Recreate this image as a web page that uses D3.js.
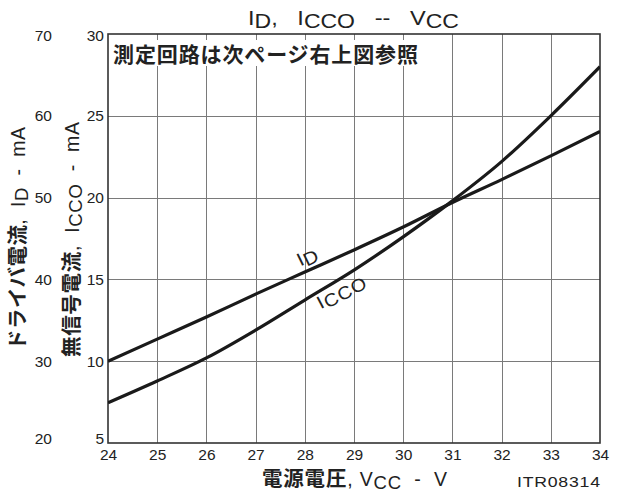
<!DOCTYPE html>
<html>
<head>
<meta charset="utf-8">
<script src="https://cdn.jsdelivr.net/npm/d3@7"></script>
<style>
  html, body { margin: 0; padding: 0; background: #fff; }
  svg { display: block; }
  text { font-family: "Liberation Sans", Arial, sans-serif; fill: #222; white-space: pre; }
  .cjk { font-family: "Noto Sans CJK JP", sans-serif; font-weight: 700; }
</style>
</head>
<body>
<script>
// Supply voltage (V) and the two measured currents (mA)
const vcc = [24, 25, 26, 27, 28, 29, 30, 31, 32, 33, 34];
const driveCurrent = [30, 32.7, 35.4, 38.2, 40.9, 43.6, 46.4, 49.4, 52.2, 55.1, 58.1];   // ID, outer scale
const noSignalCurrent = [7.46, 8.79, 10.2, 11.9, 13.74, 15.57, 17.6, 19.8, 22.2, 25.0, 28.0]; // ICCO, inner scale

const xTicks = [24, 25, 26, 27, 28, 29, 30, 31, 32, 33, 34];
const iccoTicks = [5, 10, 15, 20, 25, 30];
const idTicks = [20, 30, 40, 50, 60, 70];

const W = 619, H = 492;
const plot = { left: 108, right: 600, top: 34, bottom: 443 };

const svg = d3.select("body").append("svg").attr("width", W).attr("height", H);

const x = d3.scaleLinear().domain([24, 34]).range([plot.left, plot.right]);
const yIcco = d3.scaleLinear().domain([5, 30]).range([plot.bottom, plot.top]);
const yId = d3.scaleLinear().domain([20, 70]).range([plot.bottom, plot.top]);

// Grid
const grid = svg.append("g").attr("stroke", "#7a7a7a").attr("stroke-width", 1);
grid.selectAll("line.v").data(xTicks.slice(1, -1)).join("line")
  .attr("x1", d => Math.round(x(d)) + 0.5).attr("x2", d => Math.round(x(d)) + 0.5)
  .attr("y1", plot.top).attr("y2", plot.bottom);
grid.selectAll("line.h").data(iccoTicks.slice(1, -1)).join("line")
  .attr("y1", d => Math.round(yIcco(d)) + 0.5).attr("y2", d => Math.round(yIcco(d)) + 0.5)
  .attr("x1", plot.left).attr("x2", plot.right);

// Note box
svg.append("rect").attr("x", 111).attr("y", 40).attr("width", 310).attr("height", 26).attr("fill", "#fff");
svg.append("text").attr("class", "cjk").attr("x", 113).attr("y", 62)
  .attr("font-size", 21).attr("textLength", 305).attr("lengthAdjust", "spacing")
  .text("測定回路は次ページ右上図参照");

// Frame
svg.append("rect").attr("x", plot.left).attr("y", plot.top)
  .attr("width", plot.right - plot.left).attr("height", plot.bottom - plot.top)
  .attr("fill", "none").attr("stroke", "#333").attr("stroke-width", 1.6);

// Curves
svg.append("clipPath").attr("id", "pc").append("rect")
  .attr("x", plot.left).attr("y", plot.top)
  .attr("width", plot.right - plot.left).attr("height", plot.bottom - plot.top);

const lineId = d3.line().x((d, i) => x(vcc[i])).y(d => yId(d)).curve(d3.curveMonotoneX);
const lineIcco = d3.line().x((d, i) => x(vcc[i])).y(d => yIcco(d)).curve(d3.curveMonotoneX);

svg.append("path").attr("d", lineId(driveCurrent)).attr("clip-path", "url(#pc)")
  .attr("fill", "none").attr("stroke", "#1a1a1a").attr("stroke-width", 3.2);
svg.append("path").attr("d", lineIcco(noSignalCurrent)).attr("clip-path", "url(#pc)")
  .attr("fill", "none").attr("stroke", "#1a1a1a").attr("stroke-width", 3.2);

// Axes
const ax = svg.append("g").attr("transform", `translate(0,${plot.bottom})`)
  .call(d3.axisBottom(x).tickValues(xTicks).tickFormat(d3.format("d")).tickSize(0).tickPadding(6));
const ayIn = svg.append("g").attr("transform", `translate(${plot.left},0)`)
  .call(d3.axisLeft(yIcco).tickValues(iccoTicks).tickFormat(d3.format("d")).tickSize(0).tickPadding(4));
const ayOut = svg.append("g").attr("transform", `translate(52,0)`)
  .call(d3.axisLeft(yId).tickValues(idTicks).tickFormat(d3.format("d")).tickSize(0).tickPadding(0));
[ax, ayIn, ayOut].forEach(g => {
  g.select(".domain").remove();
  g.selectAll("text").attr("font-size", 15.5).attr("fill", "#222")
    .attr("font-family", "Liberation Sans, Arial, sans-serif");
});
[ayIn, ayOut].forEach(g => {
  g.selectAll(".tick text").attr("dy", (d, i, n) => i === 0 ? "0.05em" : (i === n.length - 1 ? "0.45em" : "0.32em"));
});

// Text with lowered subscripts: parts = [[text, kind]]
function rich(sel, parts, size, subSize) {
  let shifted = false;
  parts.forEach(([t, k]) => {
    const ts = sel.append("tspan").text(t);
    if (k === "cjk") ts.attr("class", "cjk").attr("font-size", size + 1);
    else ts.attr("font-size", k === "sub" ? subSize : size);
    if (k === "sub" && !shifted) { ts.attr("dy", size * 0.16); shifted = true; }
    else if (k !== "sub" && shifted) { ts.attr("dy", -size * 0.16); shifted = false; }
  });
  return sel;
}

// Title (slightly wide glyphs)
rich(svg.append("text").attr("transform", "translate(248,25) scale(1.15,1)"),
  [["I", ""], ["D", "sub"], [",   I", ""], ["CCO", "sub"], ["   --   V", ""], ["CC", "sub"]], 20.5, 20);

// Axis titles
rich(svg.append("text").attr("x", 262).attr("y", 486)
  .attr("textLength", 185).attr("lengthAdjust", "spacing"),
  [["電源電圧", "cjk"], [", V", ""], ["CC", "sub"], ["  -  V", ""]], 19.5, 18.5);

rich(svg.append("text").attr("transform", "translate(25,350) rotate(-90)")
  .attr("textLength", 223).attr("lengthAdjust", "spacing"),
  [["ドライバ電流", "cjk"], [",  I", ""], ["D", "sub"], ["  -  mA", ""]], 19.5, 18.5);

rich(svg.append("text").attr("transform", "translate(79,357) rotate(-90)")
  .attr("textLength", 235).attr("lengthAdjust", "spacing"),
  [["無信号電流", "cjk"], [",  I", ""], ["CCO", "sub"], ["  -  mA", ""]], 19.5, 18.5);

// Curve labels
rich(svg.append("text").attr("transform", `translate(${x(28.1)},${yId(40.9) - 10}) rotate(-26) scale(1.1,1)`)
  .attr("text-anchor", "middle"), [["I", ""], ["D", "sub"]], 18.5, 18.5);
rich(svg.append("text").attr("transform", `translate(${x(28.8)},${yIcco(15.1) + 19}) rotate(-28) scale(1.1,1)`)
  .attr("text-anchor", "middle").attr("letter-spacing", 0.8), [["I", ""], ["CCO", "sub"]], 18, 18);

// Drawing code
svg.append("text").attr("transform", "translate(517,487) scale(1.18,1)")
  .attr("font-size", 15).attr("textLength", 83 / 1.18).attr("lengthAdjust", "spacing").text("ITR08314");
</script>
</body>
</html>
